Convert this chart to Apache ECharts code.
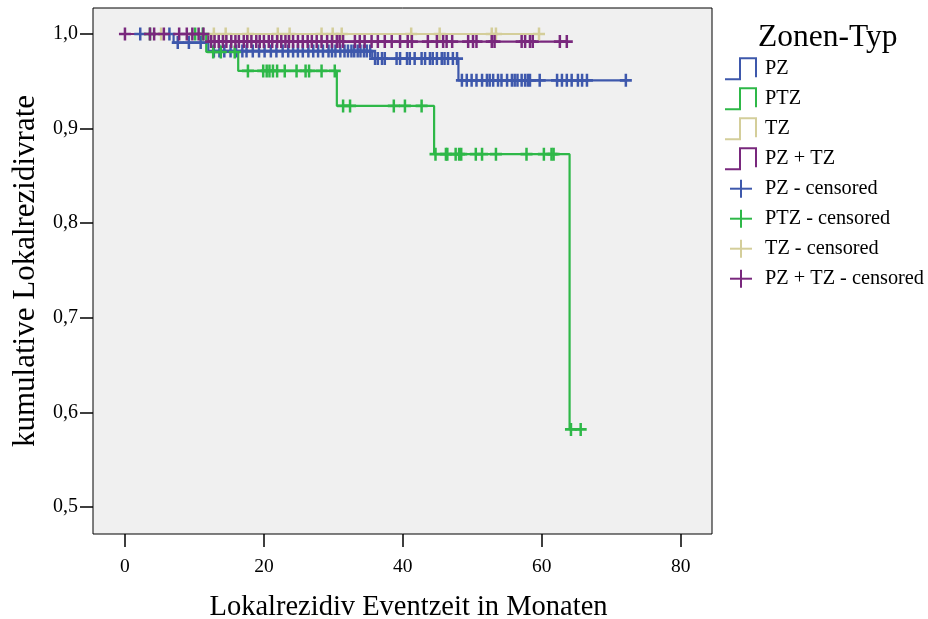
<!DOCTYPE html>
<html>
<head>
<meta charset="utf-8">
<script src="https://cdn.jsdelivr.net/npm/echarts@6/dist/echarts.min.js"></script>
<style>
  html, body { margin: 0; padding: 0; background: #ffffff; }
  #chart { width: 928px; height: 619px; }
</style>
</head>
<body>
<div id="chart"></div>
<script>
// Kaplan-Meier curves of local recurrence by zone type

const groupNames = ['PZ', 'PTZ', 'TZ', 'PZ + TZ'];

// PZ: event times (months) and survival after each event, censored times
const pzEventTimes = [7.0, 12.0, 35.6, 48.0];
const pzSurvival   = [0.991, 0.982, 0.974, 0.951];
const pzCensored = [
  2.2, 6.4,
  7.6, 9.2, 10.9,
  12.8, 13.6, 14.3, 15.2, 16.0, 16.9, 17.5, 18.4, 19.3, 20.1, 21.0, 21.8, 22.7,
  23.5, 24.2, 24.9, 25.6, 26.4, 27.1, 27.8, 28.5, 29.3, 29.8, 30.3, 31.0, 31.6,
  32.1, 32.6, 33.0, 33.5, 33.9, 34.4, 34.8, 35.3,
  36.0, 36.4, 37.0, 37.4, 39.1, 39.6, 40.6, 41.0, 41.7, 42.7, 43.2, 43.9, 44.3,
  44.9, 45.6, 46.0, 46.5, 47.2, 47.8,
  48.5, 49.2, 49.9, 50.6, 51.4, 52.1, 52.5, 53.0, 53.7, 54.2, 55.0, 55.7, 56.1,
  56.5, 57.1, 57.6, 58.0, 58.3, 59.7, 62.2, 62.9, 63.6, 64.3, 65.2, 65.8, 66.5, 72.1
];

// PTZ
const ptzEventTimes = [11.7, 16.3, 30.5, 44.5, 64.0];
const ptzSurvival   = [0.981, 0.961, 0.924, 0.873, 0.582];
const ptzCensored = [
  3.6, 10.1, 11.2,
  12.7, 13.8, 15.8,
  17.7, 19.9, 20.4, 20.8, 21.3, 21.9, 23.0, 24.7, 26.0, 26.5, 28.3, 30.2,
  31.4, 32.4, 38.7, 40.3, 42.7,
  44.7, 46.2, 46.4, 47.6, 48.1, 48.4, 50.5, 51.4, 53.4, 57.8, 60.3, 61.4, 61.7,
  64.2, 65.6
];

// TZ (no events)
const tzEventTimes = [];
const tzSurvival   = [];
const tzCensored = [
  5.2, 12.8, 14.5, 17.7, 22.0, 23.7, 28.3, 29.9, 31.2, 41.2, 45.3, 52.8, 53.4, 59.6
];

// PZ + TZ
const pztzEventTimes = [12.0];
const pztzSurvival   = [0.992];
const pztzCensored = [
  0, 3.6, 4.2, 5.6, 7.8, 8.9, 9.7, 10.6, 11.3,
  12.4, 12.9, 13.5, 14.1, 14.6, 15.3, 15.9, 16.4, 17.1, 17.6, 18.2, 18.9, 19.4,
  20.0, 20.7, 21.2, 21.9, 22.5, 23.1, 23.6, 24.2, 24.9, 25.6, 26.3, 26.9, 27.6,
  28.3, 29.1, 29.8, 30.5, 30.9, 31.4, 33.1, 33.8, 34.5, 35.5, 36.4, 37.4, 38.4,
  39.6, 40.7, 41.3, 43.6, 44.9, 45.8, 46.3, 47.1, 49.4, 50.1, 50.6, 52.8, 53.2,
  57.1, 57.6, 58.3, 58.7, 62.6, 63.6
];

const xTickLabels = [0, 20, 40, 60, 80];
const yTickLabels = [0.5, 0.6, 0.7, 0.8, 0.9, 1.0];

const groups = [
  { name: groupNames[0], events: pzEventTimes,   surv: pzSurvival,   cens: pzCensored,   color: '#3E58AC' },
  { name: groupNames[1], events: ptzEventTimes,  surv: ptzSurvival,  cens: ptzCensored,  color: '#2EB848' },
  { name: groupNames[2], events: tzEventTimes,   surv: tzSurvival,   cens: tzCensored,   color: '#D4CE9A' },
  { name: groupNames[3], events: pztzEventTimes, surv: pztzSurvival, cens: pztzCensored, color: '#79287D' }
];

function survivalAt(g, t) {
  let s = 1;
  for (let i = 0; i < g.events.length; i++) {
    if (t >= g.events[i]) s = g.surv[i];
  }
  return s;
}

function stepData(g) {
  const pts = [[0, 1]];
  g.events.forEach((t, i) => pts.push([t, g.surv[i]]));
  const last = Math.max(...g.cens, ...g.events);
  pts.push([last, survivalAt(g, last)]);
  return pts;
}

// filled plus sign used for censoring ticks
const plusPath = 'path://M4.75,0h2.5v4.75h4.75v2.5h-4.75v4.75h-2.5v-4.75h-4.75v-2.5h4.75z';

const FONT = '"Liberation Serif", "Times New Roman", serif';

const series = [];
groups.forEach(g => {
  series.push({
    name: g.name,
    type: 'line',
    step: 'end',
    symbol: 'none',
    data: stepData(g),
    lineStyle: { color: g.color, width: 2.2 },
    itemStyle: { color: g.color },
    z: 2,
    silent: true
  });
});
groups.forEach(g => {
  series.push({
    name: g.name + ' - censored',
    type: 'scatter',
    symbol: plusPath,
    symbolSize: [12, 13],
    data: g.cens.map(t => [t, survivalAt(g, t)]),
    itemStyle: { color: g.color, opacity: 1 },
    z: 3,
    silent: true
  });
});

// legend drawn on the right
const legendGraphics = [];
legendGraphics.push({
  type: 'text', x: 758, y: 37.5,
  style: { text: 'Zonen-Typ', font: '31.5px ' + FONT, fill: '#000', verticalAlign: 'middle', align: 'left' }
});
const rowY0 = 68.7, rowGap = 30;
const itemFont = '20.3px ' + FONT;
groups.forEach((g, i) => {
  const c = rowY0 + i * rowGap;
  legendGraphics.push({
    type: 'polyline',
    shape: { points: [[725, c + 10.5], [740, c + 10.5], [740, c - 10.5], [756, c - 10.5], [756, c + 8.5]] },
    style: { stroke: g.color, lineWidth: 2, fill: null }
  });
  legendGraphics.push({
    type: 'text', x: 765, y: c,
    style: { text: g.name, font: itemFont, fill: '#000', verticalAlign: 'middle', align: 'left' }
  });
});
groups.forEach((g, i) => {
  const c = rowY0 + (i + 4) * rowGap;
  legendGraphics.push({
    type: 'line', shape: { x1: 730, y1: c, x2: 752, y2: c },
    style: { stroke: g.color, lineWidth: 2 }
  });
  legendGraphics.push({
    type: 'line', shape: { x1: 741, y1: c - 9, x2: 741, y2: c + 9 },
    style: { stroke: g.color, lineWidth: 2 }
  });
  legendGraphics.push({
    type: 'text', x: 765, y: c,
    style: { text: g.name + ' - censored', font: itemFont, fill: '#000', verticalAlign: 'middle', align: 'left' }
  });
});

const chart = echarts.init(document.getElementById('chart'), null, { renderer: 'canvas' });
chart.setOption({
  animation: false,
  backgroundColor: '#ffffff',
  grid: {
    left: 93, top: 8, width: 619, height: 526,
    outerBoundsMode: 'none', containLabel: false,
    show: true, backgroundColor: '#F0F0F0', borderColor: '#000', borderWidth: 1
  },
  xAxis: {
    type: 'value',
    min: -4.6, max: 84.5,
    name: 'Lokalrezidiv Eventzeit in Monaten',
    nameLocation: 'middle',
    nameGap: 59,
    nameTextStyle: { fontFamily: FONT, fontSize: 28.5, color: '#000', padding: [0, 0, 0, 12] },
    axisLine: { show: false, onZero: false },
    splitLine: { show: false },
    axisTick: { show: true, length: 13, inside: false, customValues: xTickLabels, lineStyle: { color: '#000', width: 1.5 } },
    axisLabel: { customValues: xTickLabels, margin: 23, fontFamily: FONT, fontSize: 19.5, color: '#000' }
  },
  yAxis: {
    type: 'value',
    min: 0.4715, max: 1.0275,
    name: 'kumulative Lokalrezidivrate',
    nameLocation: 'middle',
    nameGap: 52,
    nameRotate: 90,
    nameTextStyle: { fontFamily: FONT, fontSize: 31, color: '#000' },
    axisLine: { show: false, onZero: false },
    splitLine: { show: false },
    axisTick: { show: true, length: 13, inside: false, customValues: yTickLabels, lineStyle: { color: '#000', width: 1.5 } },
    axisLabel: {
      customValues: yTickLabels, margin: 15, fontFamily: FONT, fontSize: 20, color: '#000',
      formatter: v => v.toFixed(1).replace('.', ',')
    }
  },
  graphic: legendGraphics,
  series: series
});
</script>
</body>
</html>
